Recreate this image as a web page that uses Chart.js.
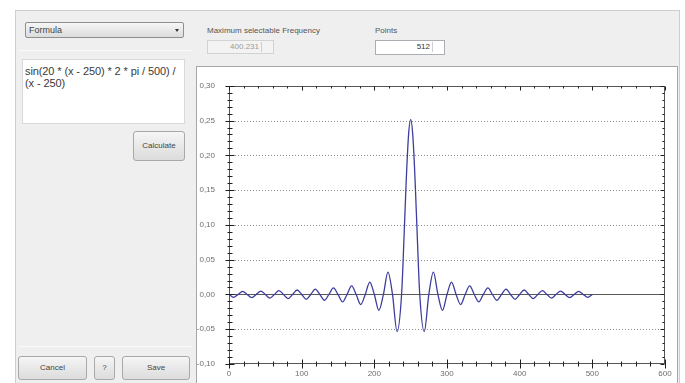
<!DOCTYPE html>
<html>
<head>
<meta charset="utf-8">
<title>Formula</title>
<script src="https://cdn.jsdelivr.net/npm/chart.js@4.4.0/dist/chart.umd.min.js"></script>
<style>
  body { margin: 0; width: 685px; height: 383px; background: #fff; overflow: hidden; position: relative;
         font-family: "Liberation Sans", Arial, sans-serif; color: #333; }
  .abs { position: absolute; box-sizing: border-box; }
  .frame { left: 15px; top: 10px; width: 665px; height: 380px; background: #efefef; border: 1px solid #cdcdcd; }
  .sep { height: 1px; background: #d6d6d6; border-bottom: 1px solid #fafafa; }
  .combo { left: 25px; top: 22px; width: 159px; height: 16px; border: 1px solid #8f8f8f; border-radius: 2px;
           background: linear-gradient(#f6f6f6, #dcdcdc); font-size: 9px; line-height: 14px; padding-left: 3px; color: #444; }
  .combo .arr { position: absolute; right: 4px; top: 6px; width: 0; height: 0;
                border-left: 2px solid transparent; border-right: 2px solid transparent; border-top: 3px solid #333; }
  .formula { left: 22px; top: 59px; width: 163px; height: 65px; background: #fff; border: 1px solid #d9d9d9;
             font-size: 11px; line-height: 12px; padding: 5px 2px; color: #3a3a3a; letter-spacing: -0.1px; }
  .btn { border: 1px solid #a9a9a9; border-radius: 3px; background: linear-gradient(#f5f5f5, #dcdcdc);
         font-size: 8px; color: #444; text-align: center; }
  .lbl { font-size: 8px; color: #555; white-space: nowrap; }
  .num { font-size: 8px; text-align: right; padding-right: 14px; line-height: 12px; }
  .spin { position: absolute; right: 1px; top: 1px; width: 10px; height: 10px; border-left: 1px solid #cfcfcf; }
  .panel { left: 196px; top: 66px; width: 482px; height: 330px; background: #fff; border: 1px solid #a6a6a6; }
  #wrap { position: absolute; left: 197px; top: 67px; width: 480px; height: 316px; }
</style>
</head>
<body>
<div class="abs frame"></div>

<div class="abs combo">Formula<span class="arr"></span></div>
<div class="abs sep" style="left:18px; top:50px; width:174px;"></div>
<div class="abs formula">sin(20 * (x - 250) * 2 * pi / 500) /<br>(x - 250)</div>
<div class="abs btn" style="left:133px; top:131px; width:52px; height:30px; line-height:28px;">Calculate</div>

<div class="abs sep" style="left:18px; top:346px; width:174px;"></div>
<div class="abs btn" style="left:18px; top:356px; width:69px; height:24px; line-height:22px;">Cancel</div>
<div class="abs btn" style="left:94px; top:356px; width:21px; height:24px; line-height:22px;">?</div>
<div class="abs btn" style="left:122px; top:356px; width:68px; height:24px; line-height:22px;">Save</div>

<div class="abs lbl" style="left:207px; top:26px;">Maximum selectable Frequency</div>
<div class="abs num" style="left:207px; top:40px; width:67px; height:14px; background:#f3f3f3; border:1px solid #d2d2d2; color:#9a9a9a;">400.231<span class="spin"></span></div>
<div class="abs lbl" style="left:375px; top:26px;">Points</div>
<div class="abs num" style="left:375px; top:40px; width:70px; height:15px; background:#fff; border:1px solid #abadb3; color:#333;">512<span class="spin"></span></div>

<div class="abs panel"></div>
<div id="wrap"><canvas id="signalChart" width="480" height="316"></canvas></div>

<script>
// sample positions (x) and values (y)
var pointX = [0, 6.25, 12.5, 18.75, 25, 31.25, 37.5, 43.75, 50, 56.25, 62.5, 68.75, 75, 81.25, 87.5, 93.75,
    100, 106.25, 112.5, 118.75, 125, 131.25, 137.5, 143.75, 150, 156.25, 162.5, 168.75, 175, 181.25, 187.5, 193.75,
    200, 206.25, 212.5, 218.75, 225, 231.25, 237.5, 241, 243.75, 247, 250, 253, 256.25, 259, 262.5, 268.75,
    275, 281.25, 287.5, 293.75, 300, 306.25, 312.5, 318.75, 325, 331.25, 337.5, 343.75, 350, 356.25,
    362.5, 368.75, 375, 381.25, 387.5, 393.75, 400, 406.25, 412.5, 418.75, 425, 431.25, 437.5, 443.75,
    450, 456.25, 462.5, 468.75, 475, 481.25, 487.5, 493.75, 500];
var pointY = [0, -0.0041, 0, 0.0043, 0, -0.0046, 0, 0.0048, 0, -0.0052, 0, 0.0055, 0, -0.0059, 0, 0.0064,
    0, -0.0070, 0, 0.0076, 0, -0.0084, 0, 0.0094, 0, -0.0107, 0, 0.0123, 0, -0.0145, 0, 0.0178,
    0, -0.0229, 0, 0.032, 0, -0.0533, 0, 0.0857, 0.16, 0.228, 0.2513, 0.228, 0.16, 0.0857, 0, -0.0533,
    0, 0.032, 0, -0.0229, 0, 0.0178, 0, -0.0145, 0, 0.0123, 0, -0.0107, 0, 0.0094,
    0, -0.0084, 0, 0.0076, 0, -0.0070, 0, 0.0064, 0, -0.0059, 0, 0.0055, 0, -0.0052,
    0, 0.0048, 0, -0.0046, 0, 0.0043, 0, -0.0041, 0];

var xTickValues = [0, 100, 200, 300, 400, 500, 600];
var xTickLabels = ['0', '100', '200', '300', '400', '500', '600'];
var yTickValues = [-0.10, -0.05, 0, 0.05, 0.10, 0.15, 0.20, 0.25, 0.30];
var yTickLabels = ['-0,10', '-0,05', '0,00', '0,05', '0,10', '0,15', '0,20', '0,25', '0,30'];

// grid, zero line, frame and the crossing tick marks
var axisDecor = {
    id: 'axisDecor',
    beforeDatasetsDraw: function (chart) {
        var ctx = chart.ctx, a = chart.chartArea, y = chart.scales.y;
        ctx.save();
        ctx.lineWidth = 1;
        ctx.strokeStyle = '#8c8c8c';
        ctx.setLineDash([1, 2]);
        yTickValues.forEach(function (v, i) {
            if (v === 0 || i === 0 || i === yTickValues.length - 1) return;
            var py = Math.round(y.getPixelForValue(v)) + 0.5;
            ctx.beginPath(); ctx.moveTo(a.left, py); ctx.lineTo(a.right, py); ctx.stroke();
        });
        ctx.setLineDash([]);
        ctx.strokeStyle = '#5a5a5a';
        var zy = Math.round(y.getPixelForValue(0)) + 0.5;
        ctx.beginPath(); ctx.moveTo(a.left, zy); ctx.lineTo(a.right, zy); ctx.stroke();
        ctx.restore();
    },
    afterDatasetsDraw: function (chart) {
        var ctx = chart.ctx, a = chart.chartArea, x = chart.scales.x, y = chart.scales.y;
        var L = Math.round(a.left) + 0.5, R = Math.round(a.right) - 0.5;
        var T = Math.round(a.top) + 0.5, B = Math.round(a.bottom) - 0.5;
        ctx.save();
        ctx.lineWidth = 1;
        ctx.strokeStyle = '#555';
        ctx.strokeRect(L, T, R - L, B - T);
        ctx.strokeStyle = '#1e1e1e';
        function line(x1, y1, x2, y2) { ctx.beginPath(); ctx.moveTo(x1, y1); ctx.lineTo(x2, y2); ctx.stroke(); }
        function each(values, cb) {
            for (var i = 0; i < values.length; i++) {
                cb(values[i], 4);
                if (i < values.length - 1) {
                    var step = (values[i + 1] - values[i]) / 5;
                    for (var k = 1; k < 5; k++) cb(values[i] + step * k, 2);
                }
            }
        }
        each(yTickValues, function (v, len) {
            var py = Math.round(y.getPixelForValue(v)) + 0.5;
            line(L - len, py, L + len + 1, py);
            line(R - len, py, R, py);
        });
        each(xTickValues, function (v, len) {
            var px = Math.round(x.getPixelForValue(v)) + 0.5;
            line(px, B - len, px, B + len + 1);
            line(px, T, px, T + len);
        });
        ctx.restore();
    }
};

window.onload = function () {
    var points = pointX.map(function (v, i) { return { x: v, y: pointY[i] }; });

    Chart.defaults.font.family = '"Liberation Sans", Arial, sans-serif';
    Chart.defaults.font.size = 8;
    Chart.defaults.color = '#6e6e6e';

    var ctx = document.getElementById('signalChart');
    new Chart(ctx, {
        type: 'line',
        data: {
            datasets: [{
                label: 'signal',
                data: points,
                borderColor: '#3d3d9e',
                borderWidth: 1.3,
                pointRadius: 0,
                fill: false,
                cubicInterpolationMode: 'monotone'
            }]
        },
        options: {
            responsive: false,
            animation: false,
            layout: { padding: { left: 0, right: 12, top: 7, bottom: 0 } },
            plugins: { legend: { display: false }, tooltip: { enabled: false } },
            scales: {
                x: {
                    type: 'linear',
                    min: 0,
                    max: 600,
                    grid: { display: false, drawTicks: false },
                    border: { display: false },
                    afterBuildTicks: function (s) { s.ticks = xTickValues.map(function (v) { return { value: v }; }); },
                    afterFit: function (s) { s.height = 19; },
                    ticks: {
                        padding: 5,
                        maxRotation: 0,
                        callback: function (v, i) { return xTickLabels[i]; }
                    }
                },
                y: {
                    type: 'linear',
                    min: -0.10,
                    max: 0.30,
                    grid: { display: false, drawTicks: false },
                    border: { display: false },
                    afterBuildTicks: function (s) { s.ticks = yTickValues.map(function (v) { return { value: v }; }); },
                    afterFit: function (s) { s.width = 32; },
                    ticks: {
                        padding: 14,
                        callback: function (v, i) { return yTickLabels[i]; }
                    }
                }
            }
        },
        plugins: [axisDecor]
    });
};
</script>
</body>
</html>
